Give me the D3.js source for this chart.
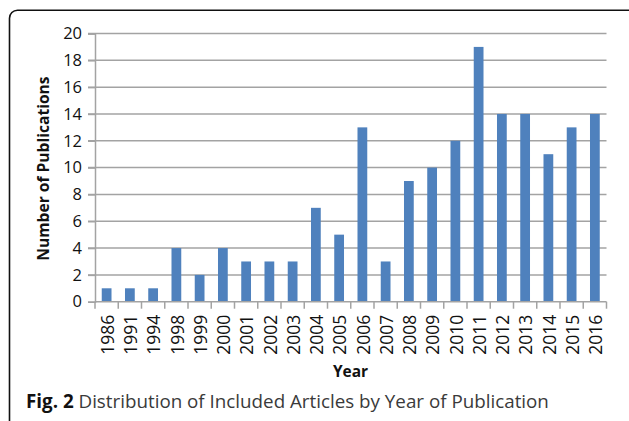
<!DOCTYPE html>
<html><head><meta charset="utf-8">
<script src="https://cdn.jsdelivr.net/npm/d3@7"></script>
<style>
html,body{margin:0;padding:0;background:#fff;}
svg{display:block;font-family:"Open Sans",sans-serif;}
</style></head>
<body><svg id="c" width="629" height="421"></svg>
<script>
const years = ["1986","1991","1994","1998","1999","2000","2001","2002","2003","2004","2005","2006","2007","2008","2009","2010","2011","2012","2013","2014","2015","2016"];
const counts = [1,1,1,4,2,4,3,3,3,7,5,13,3,9,10,12,19,14,14,11,13,14];
const yTicks = [0,2,4,6,8,10,12,14,16,18,20];
const yTitle = "Number of Publications";
const xTitle = "Year";
const captionBold = "Fig. 2";
const captionText = " Distribution of Included Articles by Year of Publication";

const svg = d3.select("#c");
const L = 95, R = 606.5, T = 33.5, B = 301.7;

// frame
svg.append("rect").attr("x",9.5).attr("y",10.2).attr("width",640).attr("height",420)
  .attr("rx",8).attr("fill","none").attr("stroke","#111").attr("stroke-width",1.6);

const y = d3.scaleLinear().domain([0,20]).range([B,T]);
const xPos = d3.scaleBand().domain(years).range([L,R]).paddingInner(0.58).paddingOuter(0.29);
const xTick = d3.scaleBand().domain(years).range([L,R]).padding(0);

// gridlines
svg.append("g").selectAll("line").data(yTicks.filter(d=>d>0)).join("line")
  .attr("x1",L-7).attr("x2",R).attr("y1",d=>y(d)).attr("y2",d=>y(d))
  .attr("stroke","#a3a3a3").attr("stroke-width",1.5);

// y axis
const ya = svg.append("g").attr("transform",`translate(${L},0)`)
  .call(d3.axisLeft(y).tickValues(yTicks).tickSize(7).tickPadding(6));
ya.attr("font-size",null).attr("font-family",null);
ya.select(".domain").attr("stroke","#a3a3a3").attr("stroke-width",1.5);
ya.selectAll(".tick line").attr("stroke","#a3a3a3").attr("stroke-width",1.5);
ya.selectAll(".tick text").style("font-size","16.5px").attr("fill","#111");

// bars
svg.append("g").selectAll("rect").data(years).join("rect")
  .attr("x",d=>xPos(d)).attr("width",xPos.bandwidth())
  .attr("y",(d,i)=>y(counts[i])).attr("height",(d,i)=>B-y(counts[i]))
  .attr("fill","#4f81bd");

// x axis
const xaG = svg.append("g").attr("transform",`translate(0,${B})`);
xaG.append("line").attr("x1",L).attr("x2",R).attr("stroke","#a3a3a3").attr("stroke-width",1.5);
xaG.selectAll("line.t").data(years.concat(["__end"])).join("line").attr("class","t")
  .attr("x1",(d,i)=>i<years.length?xTick(d):R).attr("x2",(d,i)=>i<years.length?xTick(d):R)
  .attr("y1",0).attr("y2",7).attr("stroke","#a3a3a3").attr("stroke-width",1.5);
xaG.selectAll("text").data(years).join("text")
  .attr("transform",d=>`translate(${xTick(d)+xTick.bandwidth()/2+1},13) rotate(-90)`)
  .attr("text-anchor","end").attr("dy","0.36em")
  .style("font-size","17.5px").attr("fill","#111").text(d=>d);

// axis titles
svg.append("text").attr("transform","translate(43,168.5) rotate(-90)")
  .attr("text-anchor","middle").attr("dy","0.36em")
  .attr("font-weight","bold").style("font-size","15.6px").attr("fill","#111").text(yTitle);
svg.append("text").attr("x",350.5).attr("y",376.7).attr("text-anchor","middle")
  .attr("font-weight","bold").style("font-size","15.5px").attr("fill","#111").text(xTitle);

// caption
const cap = svg.append("text").attr("x",26).attr("y",408).style("font-size","18.8px");
cap.append("tspan").attr("font-weight","bold").attr("fill","#111").text(captionBold);
cap.append("tspan").attr("fill","#3a3a3a").attr("xml:space","preserve").text(captionText);
</script></body></html>
